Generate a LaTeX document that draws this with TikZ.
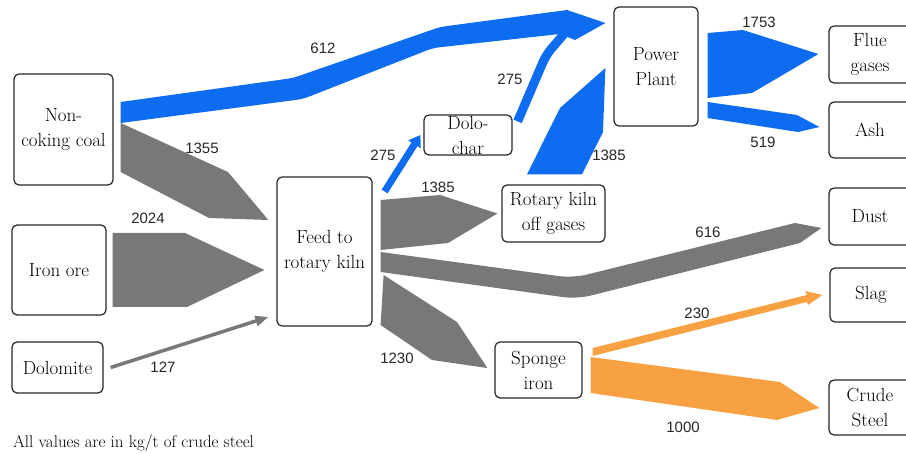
\documentclass[tikz,border=0pt]{standalone}
\usepackage{fontspec}
\newfontfamily\numfont{Liberation Sans}
\usetikzlibrary{arrows.meta,calc}

\definecolor{flowblue}{RGB}{14,108,240}
\definecolor{flowgrey}{RGB}{120,120,120}
\definecolor{floworange}{RGB}{247,161,66}

\begin{document}
\begin{tikzpicture}[x=1pt, y=-1pt,
  box/.style={draw=black!85, line width=1.2pt, rounded corners=5pt, align=center, inner sep=0pt, font=\fontsize{19}{25}\selectfont},
  val/.style={font=\numfont\fontsize{15}{18}\selectfont, text=black!85, inner sep=1pt}]
\useasboundingbox (0,0) rectangle (906,454);
\node[box, minimum width=99pt, minimum height=111pt] (coal) at (63.5,129.5) {Non-\\coking coal};
\node[box, minimum width=94pt, minimum height=90pt] (ore) at (59,270) {Iron ore};
\node[box, minimum width=91pt, minimum height=51pt] (dolo) at (57.5,367.5) {Dolomite};
\node[box, minimum width=95pt, minimum height=149pt] (feed) at (324.5,251.5) {Feed to\\rotary kiln};
\node[box, minimum width=88pt, minimum height=40pt] (char) at (468,135) {Dolo-\\char};
\node[box, minimum width=103pt, minimum height=57pt] (offgas) at (553.5,213.5) {Rotary kiln\\off gases};
\node[box, minimum width=87pt, minimum height=56pt] (sponge) at (538.5,370) {Sponge\\iron};
\node[box, minimum width=84pt, minimum height=119pt] (power) at (656,66.5) {Power\\Plant};
\node[box, minimum width=82pt, minimum height=57pt] (flue) at (870,54.5) {Flue\\gases};
\node[box, minimum width=82pt, minimum height=56pt] (ash) at (870,130) {Ash};
\node[box, minimum width=82pt, minimum height=57pt] (dust) at (870,216.5) {Dust};
\node[box, minimum width=82pt, minimum height=54pt] (slag) at (871,295) {Slag};
\node[box, minimum width=82pt, minimum height=55pt] (steel) at (870,407.5) {Crude\\Steel};
\node[anchor=west, inner sep=0pt, font=\fontsize{17}{20}\selectfont] (note) at (13,443) {All values are in kg/t of crude steel};

\fill[flowblue] ($(coal.east)+(7,-27.5)$) [rounded corners=6pt] -- (293,78) -- (440,27) [sharp corners] -- (567,10) -- ($(power.west)+(-8,-43.5)$) -- (575,40) -- (560,34) [rounded corners=6pt] -- (433,48) -- (303,99) [sharp corners] -- ($(coal.east)+(7,-6.5)$) -- cycle;
\draw[flowblue, line width=9pt, rounded corners=8pt] ($(char.north east)+(5,7)$) -- (546,55) -- (564,34);
\draw[flowblue, line width=7pt, -{Triangle[length=11pt, width=14pt]}] ($(feed.east)+(12,-60)$) -- ($(char.west)+(-3,0)$);
\fill[flowblue] ($(offgas.north)+(-26.5,-10)$) -- (560,108) -- ($(power.west)+(-8,1.5)$) -- (603,132) -- ($(offgas.north)+(28.5,-10)$) -- cycle;
\fill[flowblue] ($(power.east)+(9,-33.5)$) -- (743,30) -- ($(flue.west)+(-10,-0.5)$) -- (752,93) -- ($(power.east)+(9,31.5)$) -- cycle;
\fill[flowblue] ($(power.east)+(9,35.5)$) -- (797,115) -- ($(ash.west)+(-9,-3)$) -- (798,132) -- ($(power.east)+(9,51.5)$) -- cycle;

\fill[flowgrey] ($(coal.east)+(7,-6.5)$) -- (228,172) -- ($(feed.west)+(-8,-31.5)$) -- (209,218) -- ($(coal.east)+(7,42.5)$) -- cycle;
\fill[flowgrey] ($(ore.east)+(6,-37)$) -- (185,233) -- ($(feed.west)+(-12,18.5)$) -- (187,307) -- ($(ore.east)+(6,37)$) -- cycle;
\draw[flowgrey, line width=3.5pt, -{Triangle[length=13pt, width=10pt]}] ($(dolo.east)+(7,0)$) -- ($(feed.west)+(-8,65.5)$);
\fill[flowgrey] ($(feed.east)+(8,-51.5)$) -- (440,195) -- ($(offgas.west)+(-4,0)$) -- (448,243) -- ($(feed.east)+(8,-1.5)$) -- cycle;
\fill[flowgrey] ($(feed.east)+(8,0.5)$) [rounded corners=14pt] -- (573,278) [sharp corners] -- (795,223) -- ($(dust.west)+(-7,11.5)$) -- (800,243) [rounded corners=14pt] -- (577,299) [sharp corners] -- ($(feed.east)+(8,20.5)$) -- cycle;
\fill[flowgrey] ($(feed.east)+(11,23.5)$) -- (457,322) -- ($(sponge.west)+(-7,-2)$) -- (432,360) -- ($(feed.east)+(8,73.5)$) -- cycle;

\fill[floworange] ($(sponge.east)+(10,-22)$) -- (807,295) -- (805,291) -- ($(slag.west)+(-7,0)$) -- (808,305) -- (807,302) -- ($(sponge.east)+(10,-14)$) -- cycle;
\fill[floworange] ($(sponge.east)+(8,-13)$) -- (780,382) -- ($(steel.west)+(-9,0.5)$) -- (777,420) -- ($(sponge.east)+(8,23)$) -- cycle;

\node[val] (v612) at (323,48) {612};
\node[val] (v1355) at (202,148) {1355};
\node[val] (v2024) at (148,218) {2024};
\node[val] (v127) at (163,367) {127};
\node[val] (v275a) at (383,155) {275};
\node[val] (v275b) at (510,79) {275};
\node[val] (v1385a) at (438,187) {1385};
\node[val] (v1385b) at (609,155) {1385};
\node[val] (v1230) at (397,358) {1230};
\node[val] (v1753) at (759,22) {1753};
\node[val] (v519) at (763,142) {519};
\node[val] (v616) at (708,232) {616};
\node[val] (v230) at (697,313) {230};
\node[val] (v1000) at (683,427) {1000};
\end{tikzpicture}
\end{document}
